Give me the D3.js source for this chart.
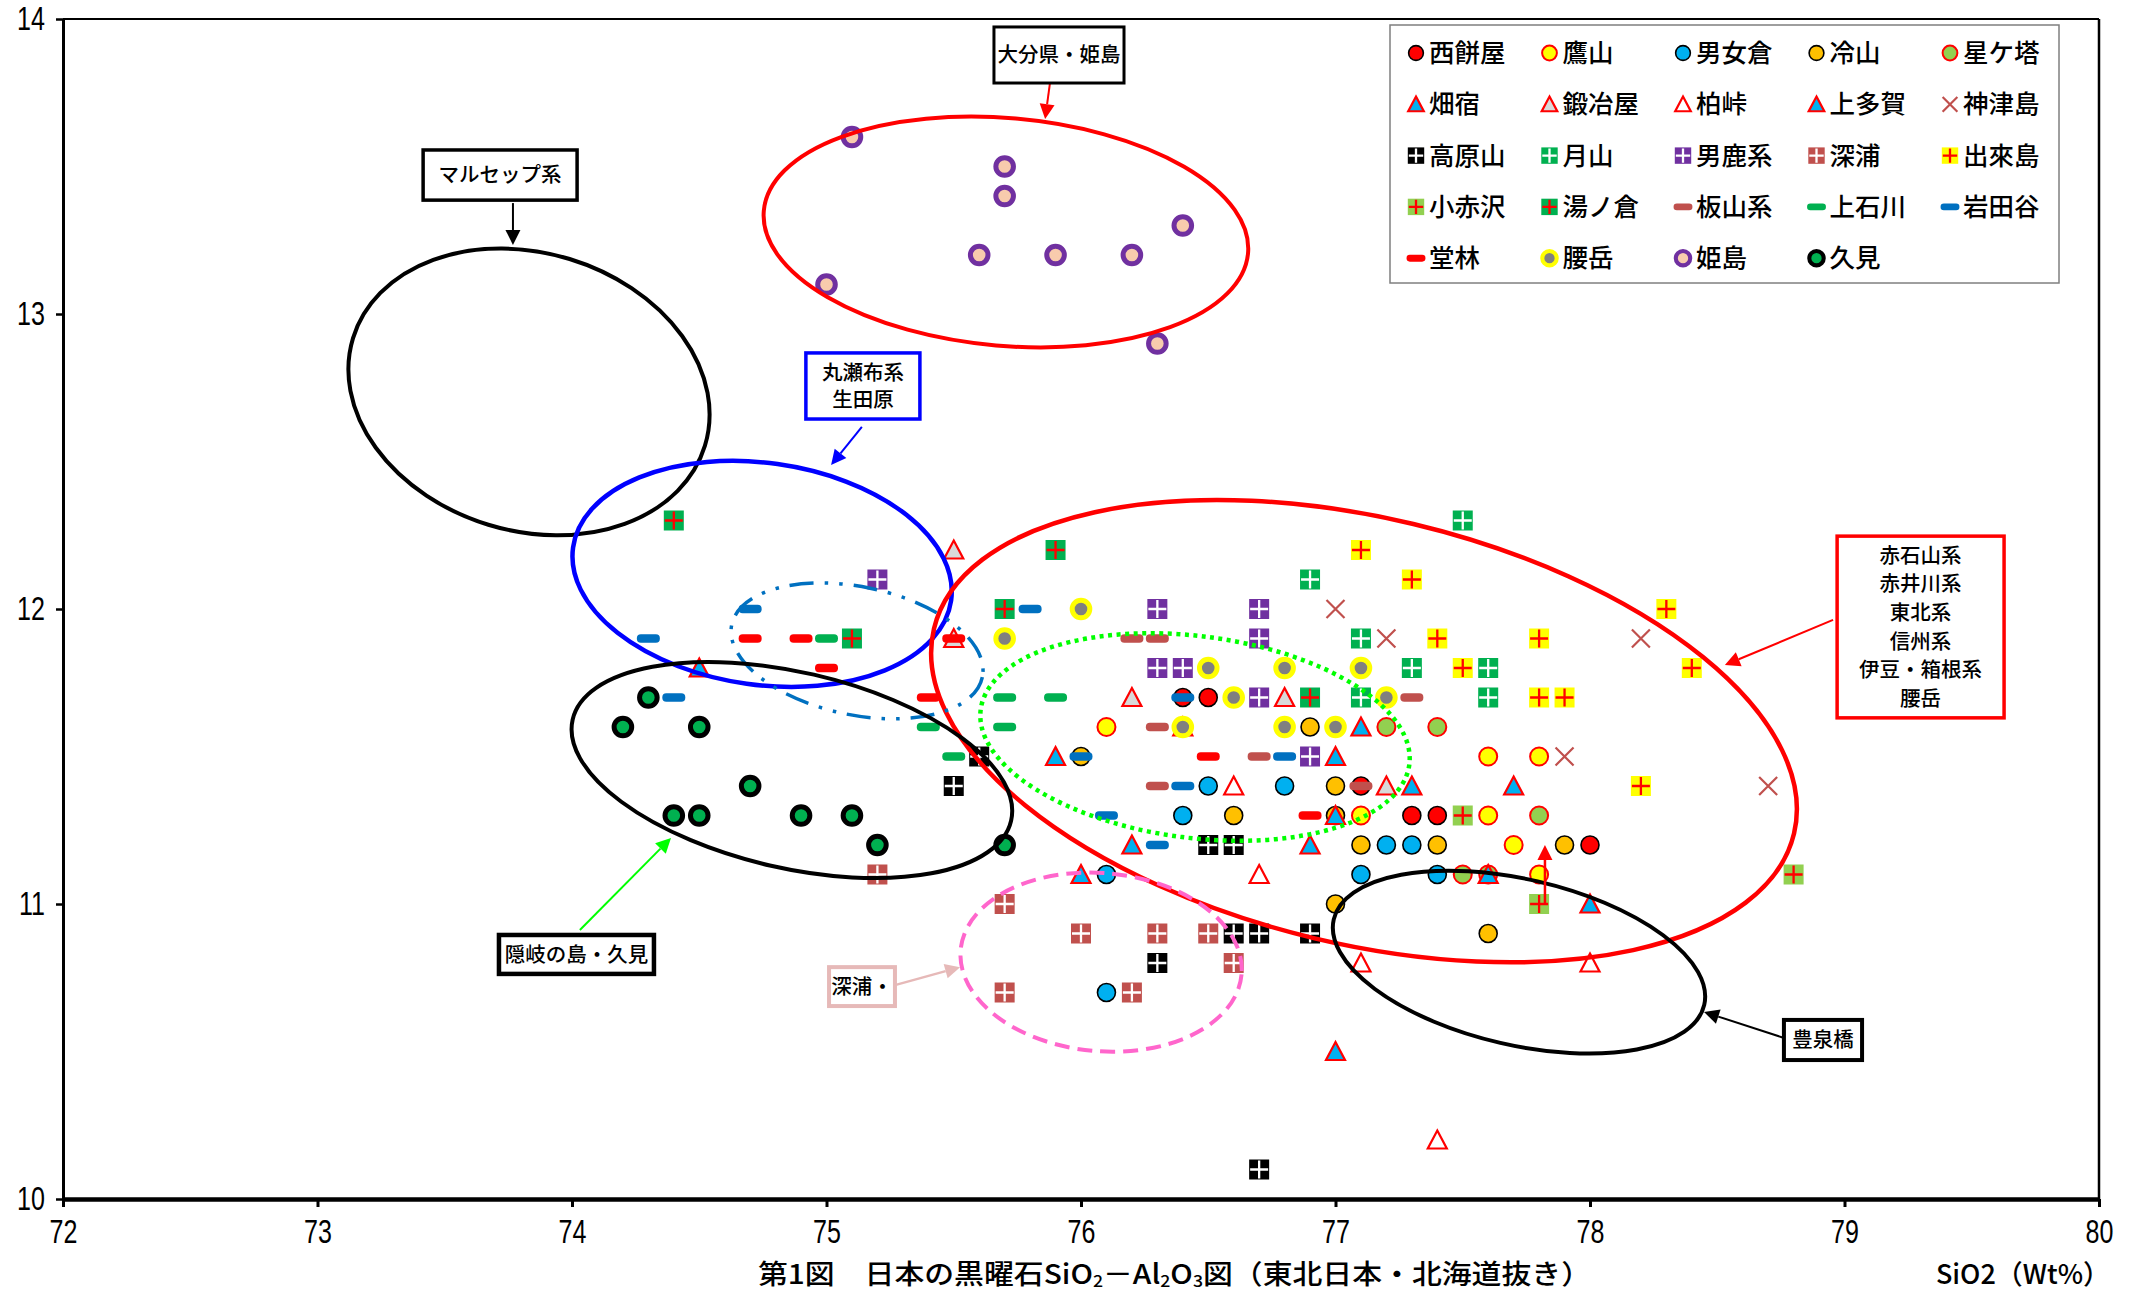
<!DOCTYPE html>
<html><head><meta charset="utf-8">
<script src="https://cdn.jsdelivr.net/npm/d3@7"></script>
<style>
html,body{margin:0;padding:0;background:#fff;}
svg{display:block;}
</style></head>
<body>
<svg id="chart" width="2141" height="1295"></svg>
<script>
// ---------------- data ----------------
const xTicks = [72,73,74,75,76,77,78,79,80];
const yTicks = [10,11,12,13,14];

const nishimochiya = [[76.4,11.7],[76.5,11.7],[77.1,11.4],[77.3,11.3],[77.4,11.3],[78.0,11.2]];
const takayama = [[76.1,11.6],[77.1,11.3],[77.6,11.5],[77.8,11.5],[77.6,11.3],[77.7,11.2],[77.8,11.1]];
const omegura = [[76.5,11.4],[76.8,11.4],[76.4,11.3],[76.1,11.1],[77.1,11.1],[77.2,11.2],[77.3,11.2],[77.4,11.1],[76.1,10.7]];
const tsumetayama = [[76.0,11.5],[77.0,11.4],[76.6,11.3],[77.0,11.3],[76.9,11.6],[77.1,11.2],[77.4,11.2],[77.9,11.2],[77.0,11.0],[77.6,10.9]];
const hoshigato = [[77.2,11.6],[77.4,11.6],[77.8,11.3],[77.5,11.1],[77.6,11.1]];
const hatajuku = [[75.9,11.5],[76.2,11.2],[76.0,11.1],[77.0,11.3],[77.1,11.6],[77.3,11.4],[77.7,11.4],[77.6,11.1],[77.0,10.5]];
const kajiya = [[75.5,12.2],[75.5,11.9],[76.2,11.7],[76.8,11.7],[77.2,11.4],[76.4,11.6]];
const kashiwatoge = [[76.6,11.4],[76.7,11.1],[77.1,10.8],[78.0,10.8],[77.4,10.2]];
const kamitaga = [[74.5,11.8],[77.0,11.5],[76.9,11.2],[78.0,11.0]];
const kozushima = [[77.0,12.0],[77.2,11.9],[78.2,11.9],[77.9,11.5],[78.7,11.4]];
const takaharayama = [[75.6,11.5],[75.5,11.4],[76.5,11.2],[76.6,11.2],[76.6,10.9],[76.7,10.9],[76.9,10.9],[76.3,10.8],[76.7,10.1]];
const gassan = [[76.9,12.1],[77.1,11.9],[77.1,11.7],[77.5,12.3],[77.3,11.8],[77.6,11.8],[77.6,11.7]];
const ogakei = [[75.2,12.1],[76.3,12.0],[76.7,12.0],[76.7,11.9],[76.3,11.8],[76.4,11.8],[76.7,11.7],[76.9,11.5]];
const fukaura = [[75.2,11.1],[75.7,11.0],[76.0,10.9],[76.3,10.9],[76.5,10.9],[76.6,10.8],[75.7,10.7],[76.2,10.7]];
const dekijima = [[77.1,12.2],[77.3,12.1],[78.3,12.0],[77.4,11.9],[77.8,11.9],[77.5,11.8],[78.4,11.8],[77.8,11.7],[77.9,11.7],[78.2,11.4]];
const koakasawa = [[77.5,11.3],[78.8,11.1],[77.8,11.0]];
const yunokura = [[74.4,12.3],[75.9,12.2],[75.7,12.0],[75.1,11.9],[76.9,11.7]];
const itayamakei = [[76.2,11.9],[76.3,11.9],[76.3,11.6],[76.7,11.5],[76.3,11.4],[77.1,11.4],[77.3,11.7]];
const kamiishikawa = [[75.0,11.9],[75.4,11.6],[75.5,11.5],[75.7,11.7],[75.7,11.6],[75.9,11.7]];
const iwataya = [[74.3,11.9],[74.7,12.0],[74.4,11.7],[75.8,12.0],[76.4,11.7],[76.0,11.5],[76.8,11.5],[76.4,11.4],[76.1,11.3],[76.3,11.2]];
const dobayashi = [[74.7,11.9],[74.9,11.9],[75.0,11.8],[75.5,11.9],[75.4,11.7],[76.5,11.5],[76.9,11.3]];
const koshidake = [[76.0,12.0],[75.7,11.9],[76.5,11.8],[76.8,11.8],[77.1,11.8],[76.6,11.7],[76.4,11.6],[76.8,11.6],[77.0,11.6],[77.2,11.7]];
const himeshima = [[75.1,13.6],[75.7,13.5],[75.7,13.4],[76.4,13.3],[75.6,13.2],[75.9,13.2],[76.2,13.2],[75.0,13.1],[76.3,12.9]];
const kumi = [[74.3,11.7],[74.2,11.6],[74.5,11.6],[74.7,11.4],[74.4,11.3],[74.5,11.3],[74.9,11.3],[75.1,11.3],[75.2,11.2],[75.7,11.2]];

const seriesNames = ['西餅屋','鷹山','男女倉','冷山','星ケ塔','畑宿','鍛冶屋','柏峠','上多賀','神津島',
  '高原山','月山','男鹿系','深浦','出來島','小赤沢','湯ノ倉','板山系','上石川','岩田谷','堂林','腰岳','姫島','久見'];
const seriesData = [nishimochiya,takayama,omegura,tsumetayama,hoshigato,hatajuku,kajiya,kashiwatoge,kamitaga,kozushima,
  takaharayama,gassan,ogakei,fukaura,dekijima,koakasawa,yunokura,itayamakei,kamiishikawa,iwataya,dobayashi,koshidake,himeshima,kumi];

// ---------------- styles ----------------
const markerStyles = [
  {shape:'circle', fill:'#ff0000', stroke:'#000', sw:1.6},
  {shape:'circle', fill:'#ffff00', stroke:'#ff0000', sw:2},
  {shape:'circle', fill:'#00b0f0', stroke:'#000', sw:1.6},
  {shape:'circle', fill:'#ffc000', stroke:'#000', sw:1.6},
  {shape:'circle', fill:'#92d050', stroke:'#ff0000', sw:2},
  {shape:'tri', fill:'#00b0f0', stroke:'#ff0000'},
  {shape:'tri', fill:'#d9d9d9', stroke:'#ff0000'},
  {shape:'tri', fill:'#ffffff', stroke:'#ff0000'},
  {shape:'tri', fill:'#00b0f0', stroke:'#ff0000'},
  {shape:'x', stroke:'#c0504d'},
  {shape:'sq', fill:'#000000', cross:'#ffffff'},
  {shape:'sq', fill:'#00b050', cross:'#ffffff'},
  {shape:'sq', fill:'#7030a0', cross:'#ffffff'},
  {shape:'sq', fill:'#c0504d', cross:'#ffffff'},
  {shape:'sq', fill:'#ffff00', cross:'#ff0000'},
  {shape:'sq', fill:'#92d050', cross:'#ff0000'},
  {shape:'sq', fill:'#00b050', cross:'#ff0000'},
  {shape:'dash', fill:'#c0504d'},
  {shape:'dash', fill:'#00b050'},
  {shape:'dash', fill:'#0070c0'},
  {shape:'dash', fill:'#ff0000'},
  {shape:'ring', fill:'#808080', stroke:'#ffff00'},
  {shape:'ring', fill:'#f8cbad', stroke:'#7030a0'},
  {shape:'ring', fill:'#00b050', stroke:'#000000'}
];

// annotation ellipses: centre in data units, radii in data units (x-units / y-units), rotation deg
const ellipses = [
  {cx:75.705, cy:13.278, rx:0.955, ry:0.386, rot:5,  color:'#ff0000', sw:4},
  {cx:73.831, cy:12.736, rx:0.723, ry:0.471, rot:17, color:'#000000', sw:4},
  {cx:74.747, cy:12.119, rx:0.750, ry:0.376, rot:8,  color:'#0000ff', sw:4.5},
  {cx:77.112, cy:11.586, rx:1.737, ry:0.722, rot:13.4, color:'#ff0000', sw:4.5},
  {cx:76.448, cy:11.566, rx:0.849, ry:0.342, rot:7.3, color:'#00ff00', sw:4.5, dash:'4,4.5'},
  {cx:75.120, cy:11.858, rx:0.503, ry:0.217, rot:11.8, color:'#0070c0', sw:3.5, dash:'24,11,3.5,11,3.5,11'},
  {cx:74.864, cy:11.454, rx:0.884, ry:0.332, rot:13, color:'#000000', sw:4},
  {cx:76.079, cy:10.803, rx:0.554, ry:0.302, rot:5,  color:'#ff66cc', sw:4, dash:'15,8'},
  {cx:77.721, cy:10.803, rx:0.747, ry:0.281, rot:13, color:'#000000', sw:4}
];

// annotation boxes: corners in data units
const boxes = [
  {x0:75.658, y0:13.973, x1:76.169, y1:13.783, lines:['大分県・姫島'], color:'#000', sw:3},
  {x0:73.415, y0:13.556, x1:74.020, y1:13.386, lines:['マルセップ系'], color:'#000', sw:3.5},
  {x0:74.919, y0:12.868, x1:75.367, y1:12.644, lines:['丸瀬布系','生田原'], color:'#0000ff', sw:3.5},
  {x0:78.971, y0:12.247, x1:79.627, y1:11.631, lines:['赤石山系','赤井川系','東北系','信州系','伊豆・箱根系','腰岳'], color:'#ff0000', sw:3.5},
  {x0:73.713, y0:10.895, x1:74.322, y1:10.763, lines:['隠岐の島・久見'], color:'#000', sw:4.5},
  {x0:75.010, y0:10.786, x1:75.269, y1:10.654, lines:['深浦・'], color:'#e6b9b8', sw:4},
  {x0:78.762, y0:10.607, x1:79.069, y1:10.471, lines:['豊泉橋'], color:'#000', sw:4}
];

const arrows = [
  {x1:75.878, y1:13.783, x2:75.859, y2:13.661, color:'#ff0000', sw:2},
  {x1:73.768, y1:13.376, x2:73.768, y2:13.234, color:'#000000', sw:2},
  {x1:75.139, y1:12.617, x2:75.018, y2:12.488, color:'#0000ff', sw:2},
  {x1:78.955, y1:11.963, x2:78.530, y2:11.810, color:'#ff0000', sw:2},
  {x1:74.031, y1:10.912, x2:74.389, y2:11.224, color:'#00ff00', sw:2},
  {x1:75.269, y1:10.725, x2:75.525, y2:10.786, color:'#e6b9b8', sw:2.5},
  {x1:78.762, y1:10.546, x2:78.448, y2:10.634, color:'#000000', sw:2},
  {x1:77.823, y1:10.997, x2:77.823, y2:11.200, color:'#ff0000', sw:2.5}
];

// ---------------- drawing ----------------
const W = 2141, H = 1295;
const CJK = '"Noto Sans CJK JP","Noto Sans CJK SC",sans-serif';
const NUM = '"Liberation Sans",Arial,sans-serif';
const x = d3.scaleLinear().domain([72,80]).range([63,2099]);
const y = d3.scaleLinear().domain([10,14]).range([1199,19]);

const svg = d3.select('#chart');
svg.append('rect').attr('width',W).attr('height',H).attr('fill','#fff');

// frame top/right
svg.append('line').attr('x1',x(72)).attr('x2',x(80)).attr('y1',y(14)).attr('y2',y(14)).attr('stroke','#000').attr('stroke-width',2);
svg.append('line').attr('x1',x(80)).attr('x2',x(80)).attr('y1',y(14)).attr('y2',y(10)).attr('stroke','#000').attr('stroke-width',2.5);

function drawMarker(g, st, k) {
  k = k || 1;
  if (st.shape === 'circle') {
    g.append('circle').attr('r',9*k).attr('fill',st.fill).attr('stroke',st.stroke).attr('stroke-width',st.sw);
  } else if (st.shape === 'ring') {
    g.append('circle').attr('r',8.8*k).attr('fill',st.fill).attr('stroke',st.stroke).attr('stroke-width',5*k);
  } else if (st.shape === 'tri') {
    g.append('path').attr('d',`M0,${-9.5*k}L${9.5*k},${8.5*k}L${-9.5*k},${8.5*k}Z`)
      .attr('fill',st.fill).attr('stroke',st.stroke).attr('stroke-width',2.2).attr('stroke-linejoin','miter');
  } else if (st.shape === 'x') {
    const s = 9*k;
    g.append('path').attr('d',`M${-s},${-s}L${s},${s}M${-s},${s}L${s},${-s}`)
      .attr('stroke',st.stroke).attr('stroke-width',2.2).attr('fill','none');
  } else if (st.shape === 'sq') {
    const s = 10*k;
    g.append('rect').attr('x',-s).attr('y',-s).attr('width',2*s).attr('height',2*s).attr('fill',st.fill);
    g.append('path').attr('d',`M0,${-s+1}V${s-1}M${-s+1},0H${s-1}`)
      .attr('stroke',st.cross).attr('stroke-width',2.3).attr('fill','none');
  } else if (st.shape === 'dash') {
    g.append('rect').attr('x',-11.5*k).attr('y',-4.2*k).attr('width',23*k).attr('height',8.4*k)
      .attr('rx',4*k).attr('fill',st.fill);
  }
}

// points
const pts = svg.append('g');
seriesData.forEach((data, i) => {
  const st = markerStyles[i];
  data.forEach(d => {
    const g = pts.append('g').attr('transform',`translate(${x(d[0])},${y(d[1])})`);
    drawMarker(g, st, 1);
  });
});

// axes
const gx = svg.append('g').attr('transform',`translate(0,${y(10)})`)
  .call(d3.axisBottom(x).tickValues(xTicks).tickSize(8).tickSizeOuter(0).tickPadding(13).tickFormat(d3.format('d')));
gx.select('.domain').attr('stroke','#000').attr('stroke-width',4.5);
gx.selectAll('.tick line').attr('stroke','#000').attr('stroke-width',3);
gx.selectAll('.tick text').attr('font-size',33).attr('fill','#000').attr('font-family',NUM)
  .attr('transform','scale(0.76,1)');

const gy = svg.append('g').attr('transform',`translate(${x(72)},0)`)
  .call(d3.axisLeft(y).tickValues(yTicks).tickSize(7).tickSizeOuter(0).tickPadding(10).tickFormat(d3.format('d')));
gy.select('.domain').attr('stroke','#000').attr('stroke-width',3);
gy.selectAll('.tick line').attr('stroke','#000').attr('stroke-width',2.5);
gy.selectAll('.tick text').attr('font-size',33).attr('fill','#000').attr('font-family',NUM)
  .attr('x',-18/0.76).attr('transform','scale(0.76,1)');

// ellipses
const eg = svg.append('g');
ellipses.forEach(e => {
  const cx = x(e.cx), cy = y(e.cy);
  const rx = x(e.cx + e.rx) - cx, ry = y(e.cy - e.ry) - cy;
  eg.append('ellipse').attr('cx',0).attr('cy',0).attr('rx',rx).attr('ry',ry)
    .attr('transform',`translate(${cx},${cy}) rotate(${e.rot})`)
    .attr('fill','none').attr('stroke',e.color).attr('stroke-width',e.sw)
    .attr('stroke-dasharray',e.dash || null);
});

// arrows
arrows.forEach(a => {
  const x1 = x(a.x1), y1 = y(a.y1), x2 = x(a.x2), y2 = y(a.y2);
  const ang = Math.atan2(y2-y1, x2-x1);
  const hl = 15, hw = 7.5;
  const bx = x2 - hl*Math.cos(ang), by = y2 - hl*Math.sin(ang);
  svg.append('line').attr('x1',x1).attr('y1',y1).attr('x2',bx).attr('y2',by)
    .attr('stroke',a.color).attr('stroke-width',a.sw);
  const px = -Math.sin(ang), py = Math.cos(ang);
  svg.append('path').attr('d',`M${x2},${y2}L${bx+hw*px},${by+hw*py}L${bx-hw*px},${by-hw*py}Z`).attr('fill',a.color);
});

// boxes
boxes.forEach(b => {
  const X0 = x(b.x0), X1 = x(b.x1), Y0 = y(b.y0), Y1 = y(b.y1);
  svg.append('rect').attr('x',X0).attr('y',Y0).attr('width',X1-X0).attr('height',Y1-Y0)
    .attr('fill','#fff').attr('stroke',b.color).attr('stroke-width',b.sw);
  const n = b.lines.length;
  const lh = n > 2 ? 28.7 : 27;
  const cxm = (X0+X1)/2, cym = (Y0+Y1)/2;
  b.lines.forEach((t, i) => {
    svg.append('text').attr('x',cxm).attr('y',cym + (i-(n-1)/2)*lh).attr('dy','0.36em')
      .attr('text-anchor','middle').attr('font-size',20.5).attr('font-weight',500)
      .attr('font-family',CJK).attr('fill','#000').text(t);
  });
});

// legend
const lg = svg.append('g');
lg.append('rect').attr('x',1390).attr('y',25).attr('width',669).attr('height',258)
  .attr('fill','#fff').attr('stroke','#7f7f7f').attr('stroke-width',1.5);
seriesNames.forEach((name, i) => {
  const col = i % 5, row = Math.floor(i / 5);
  const mx = 1416 + col*133.5, my = 53 + row*51.3;
  const g = lg.append('g').attr('transform',`translate(${mx},${my})`);
  drawMarker(g, markerStyles[i], 0.82);
  lg.append('text').attr('x',mx+13).attr('y',my).attr('dy','0.36em')
    .attr('font-size',25.5).attr('font-weight',500).attr('font-family',CJK).attr('fill','#000').text(name);
});

// title & axis label
const title = svg.append('text').attr('x',758).attr('y',1284).attr('font-size',27).attr('font-weight',500)
  .attr('font-family',CJK).attr('fill','#000')
  .attr('textLength',833).attr('lengthAdjust','spacingAndGlyphs');
title.append('tspan').text('第1図　日本の黒曜石SiO');
title.append('tspan').attr('font-size',16).attr('dy',3).text('2');
title.append('tspan').attr('dy',-3).text('－Al');
title.append('tspan').attr('font-size',16).attr('dy',3).text('2');
title.append('tspan').attr('dy',-3).text('O');
title.append('tspan').attr('font-size',16).attr('dy',3).text('3');
title.append('tspan').attr('dy',-3).text('図（東北日本・北海道抜き）');

svg.append('text').attr('x',2110).attr('y',1284).attr('text-anchor','end').attr('font-size',27).attr('font-weight',500)
  .attr('font-family',CJK).attr('fill','#000').text('SiO2（Wt%）');
</script>
</body></html>
